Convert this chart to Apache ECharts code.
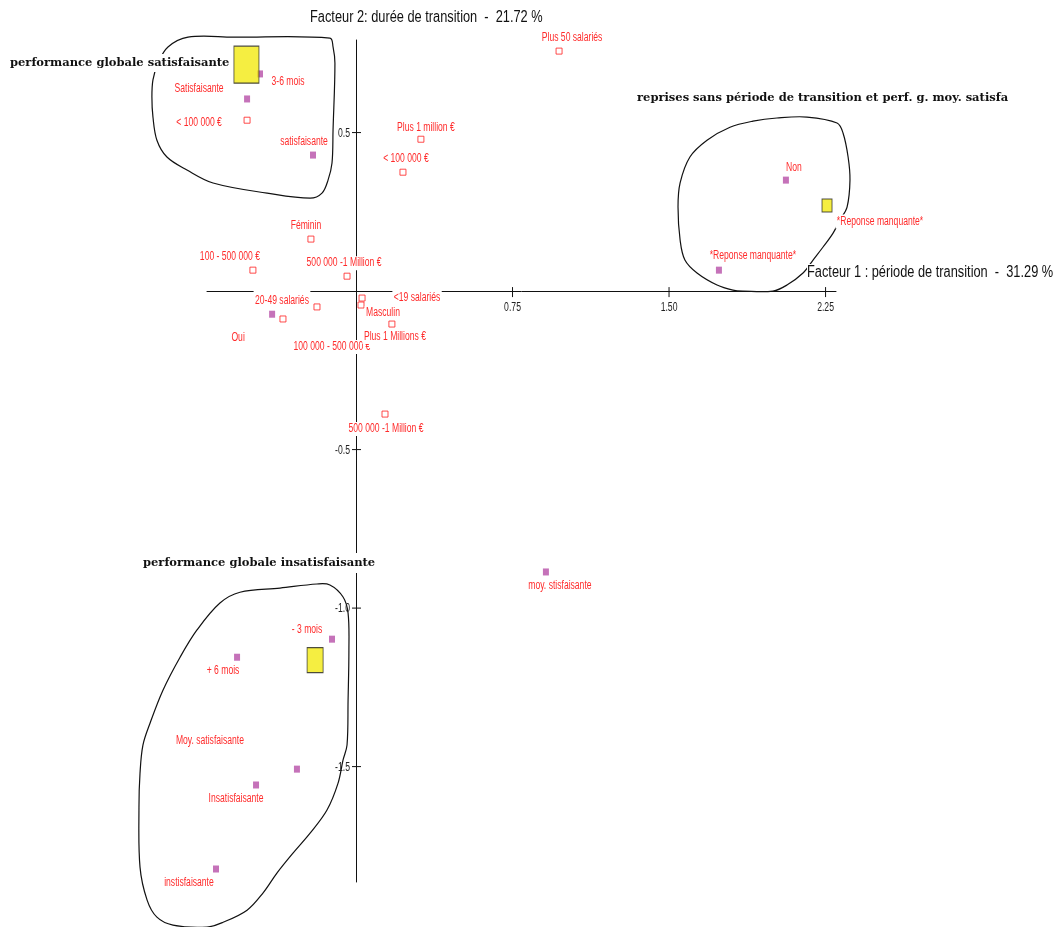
<!DOCTYPE html>
<html><head><meta charset="utf-8">
<script src="https://cdn.jsdelivr.net/npm/echarts@6/dist/echarts.min.js"></script>
<style>html,body{margin:0;padding:0;background:#fff}#c{width:1058px;height:927px}</style>
</head><body><div id="c"></div>
<script>
// ---- DATA ----
const xTicks = [0.75, 1.5, 2.25];
const yTicks = [0.5, -0.5, -1.0, -1.5];

// active categories (filled purple squares)
const activeNames = ['3-6 mois','Satisfaisante','satisfaisante','Non','*Reponse manquante*','moy. stisfaisante','- 3 mois','+ 6 mois','Moy. satisfaisante','Insatisfaisante','instisfaisante','Oui'];
const activeX = [-0.460,-0.522,-0.206,2.060,1.739,0.910,-0.115,-0.570,-0.283,-0.479,-0.671,-0.402];
const activeY = [0.685,0.606,0.429,0.350,0.066,-0.886,-1.098,-1.155,-1.508,-1.558,-1.823,-0.073];

// supplementary categories (hollow red squares)
const suppNames = ['Plus 50 salariés','Plus 1 million €','< 100 000 €','< 100 000 €','Féminin','100 - 500 000 €','500 000 -1 Million €','20-49 salariés','100 000 - 500 000 €','<19 salariés','Masculin','Plus 1 Millions €','500 000 -1 Million €'];
const suppX = [0.973,0.311,0.225,-0.522,-0.216,-0.494,-0.043,-0.187,-0.350,0.029,0.024,0.172,0.139];
const suppY = [0.757,0.479,0.375,0.539,0.164,0.066,0.047,-0.050,-0.088,-0.022,-0.044,-0.104,-0.388];

// class centres (yellow rectangles)
const centerNames = ['classe 1','classe 2','classe 3'];
const centerLabels = ['', '', '*Reponse manquante*'];
const centerX = [-0.525,-0.196,2.257];
const centerY = [0.714,-1.164,0.270];

// class outlines (in factor units)
const blobSatisf = [[-0.901,0.770],[-0.805,0.801],[-0.589,0.801],[-0.125,0.798],[-0.110,0.770],[-0.101,0.719],[-0.110,0.508],[-0.115,0.404],[-0.134,0.350],[-0.163,0.309],[-0.220,0.293],[-0.426,0.309],[-0.685,0.341],[-0.810,0.382],[-0.906,0.423],[-0.954,0.476],[-0.973,0.549],[-0.978,0.612],[-0.973,0.666],[-0.949,0.719]];
const blobReprises = [[2.017,0.546],[2.161,0.549],[2.305,0.530],[2.334,0.498],[2.358,0.423],[2.367,0.350],[2.353,0.265],[2.319,0.224],[2.286,0.183],[2.238,0.139],[2.190,0.098],[2.142,0.057],[2.065,0.019],[1.998,0.0],[1.854,0.0],[1.806,0.003],[1.730,0.019],[1.634,0.057],[1.576,0.098],[1.553,0.161],[1.543,0.265],[1.553,0.341],[1.600,0.423],[1.682,0.476],[1.792,0.517],[1.902,0.536]];
const blobInsatisf = [[-0.652,-0.984],[-0.556,-0.950],[-0.364,-0.937],[-0.187,-0.924],[-0.125,-0.927],[-0.062,-0.965],[-0.038,-1.016],[-0.034,-1.133],[-0.038,-1.290],[-0.043,-1.432],[-0.062,-1.479],[-0.086,-1.552],[-0.139,-1.637],[-0.220,-1.710],[-0.302,-1.773],[-0.379,-1.836],[-0.446,-1.899],[-0.522,-1.953],[-0.637,-1.991],[-0.714,-2.006],[-0.877,-2.000],[-0.954,-1.975],[-1.001,-1.921],[-1.035,-1.817],[-1.040,-1.628],[-1.035,-1.521],[-1.021,-1.432],[-0.987,-1.363],[-0.925,-1.259],[-0.843,-1.155],[-0.762,-1.069]];

// ---- LAYOUT / STYLE ----
const activeLabelOffset = [[28,8],[-48,-10],[-9,-13],[8,-12],[34,-14],[14,14],[-25,-9],[-14,13],[-87,-28],[-20,14],[-27,14],[-34,23]];
const suppLabelOffset = [[13,-13],[5,-12],[3,-14],[-48,2],[-5,-13],[-23,-13],[-3,-13],[-35,-6],[49,28],[55,0],[22,8],[3,13],[1,15]];
const suppLabelPad = {7:[7,2,1,2], 9:[3,2,1,2]};
const centerLabelOffset = [[0,0],[0,0],[53,16]];
const centerSizes = [[25,37],[16,25],[10,13]];

const SANS = "'Liberation Sans', Arial, sans-serif";
const SERIF = "'DejaVu Serif',serif";
const NARROW_SCALE = 0.715;
const RED = '#ff2b2b';
const PURPLE = '#b64fa8';

const blobs = [blobSatisf, blobReprises, blobInsatisf];

const labelItems = [].concat(
  activeNames.map((n, i) => ({value: [activeX[i], activeY[i]], t: n, o: activeLabelOffset[i], p: null})),
  suppNames.map((n, i) => ({value: [suppX[i], suppY[i]], t: n, o: suppLabelOffset[i], p: suppLabelPad[i] || null})),
  centerLabels.map((n, i) => ({value: [centerX[i], centerY[i]], t: n, o: centerLabelOffset[i], p: null})).filter(d => d.t !== '')
);

const tickItems = [].concat(
  xTicks.map(v => ({value: [v, 0], dir: 'x', t: v.toFixed(2)})),
  yTicks.map(v => ({value: [0, v], dir: 'y', t: v.toFixed(1)}))
);

const chart = echarts.init(document.getElementById('c'), null, {renderer:'canvas'});
chart.setOption({
  animation: false,
  backgroundColor: '#fff',
  grid: {left: 207, right: 222, top: 40, bottom: 45, containLabel: false},
  xAxis: {
    type: 'value', min: -0.714, max: 2.30,
    splitLine: {show: false},
    axisLine: {onZero: true, lineStyle: {color: '#111', width: 1}},
    axisTick: {show: false}, axisLabel: {show: false}
  },
  yAxis: {
    type: 'value', min: -1.864, max: 0.792,
    splitLine: {show: false},
    axisLine: {onZero: true, lineStyle: {color: '#111', width: 1}},
    axisTick: {show: false}, axisLabel: {show: false}
  },
  series: [
    {
      type: 'custom', name: 'classes', clip: false, silent: true, z: 1,
      data: blobs.map(b => [b[0][0], b[0][1]]),
      renderItem: function (params, api) {
        const pts = blobs[params.dataIndex].map(p => api.coord(p));
        return {type: 'polygon', shape: {points: pts, smooth: 0.35}, style: {fill: 'none', stroke: '#111', lineWidth: 1.2}};
      }
    },
    {
      type: 'custom', name: 'graduations', clip: false, silent: true, z: 2,
      data: tickItems.map(d => d.value),
      renderItem: function (params, api) {
        const d = tickItems[params.dataIndex];
        const p = api.coord(d.value);
        if (d.dir === 'x') {
          return {type: 'group', children: [
            {type: 'line', shape: {x1: p[0], y1: p[1] - 4, x2: p[0], y2: p[1] + 6}, style: {stroke: '#111', lineWidth: 1}},
            {type: 'text', x: p[0], y: p[1] + 17, scaleX: 0.72, style: {text: d.t, x: 0, y: 0, align: 'center', verticalAlign: 'middle', fill: '#222', fontFamily: SANS, fontSize: 12}}
          ]};
        }
        return {type: 'group', children: [
          {type: 'line', shape: {x1: p[0] - 4, y1: p[1], x2: p[0] + 5, y2: p[1]}, style: {stroke: '#111', lineWidth: 1}},
          {type: 'text', x: p[0] - 6, y: p[1] + 1, scaleX: 0.72, style: {text: d.t, x: 0, y: 0, align: 'right', verticalAlign: 'middle', fill: '#222', fontFamily: SANS, fontSize: 12}}
        ]};
      }
    },
    {
      type: 'scatter', name: 'supplémentaires', z: 3,
      symbol: 'rect', symbolSize: [6, 6],
      itemStyle: {color: '#fff', borderColor: '#ff1f1f', borderWidth: 1},
      data: suppNames.map((n, i) => ({name: n, value: [suppX[i], suppY[i]]}))
    },
    {
      type: 'custom', name: 'étiquettes', clip: false, silent: true, z: 4,
      data: labelItems.map(d => d.value),
      renderItem: function (params, api) {
        const d = labelItems[params.dataIndex];
        const p = api.coord(d.value);
        return {type: 'text', x: p[0] + d.o[0], y: p[1] + d.o[1], scaleX: NARROW_SCALE,
          style: {text: d.t, x: 0, y: 0, align: 'center', verticalAlign: 'middle', fill: RED,
            fontFamily: SANS, fontSize: 12, backgroundColor: '#fff', padding: d.p || [1, 2, 1, 2]}};
      }
    },
    {
      type: 'scatter', name: 'actives', z: 5,
      symbol: 'rect', symbolSize: [6, 7],
      itemStyle: {color: PURPLE},
      data: activeNames.map((n, i) => ({name: n, value: [activeX[i], activeY[i]]}))
    },
    {
      type: 'scatter', name: 'centres', z: 6,
      symbol: 'rect',
      itemStyle: {color: '#f3ea12', borderColor: '#222', borderWidth: 1},
      data: centerNames.map((n, i) => ({name: n, value: [centerX[i], centerY[i]], symbolSize: centerSizes[i]}))
    }
  ],
  graphic: [
    {type: 'text', z: 100, x: 310, y: 18, scaleX: 0.8, style: {text: 'Facteur 2: durée de transition  -  21.72 %', x: 0, y: 0, verticalAlign: 'middle', fill: '#111', fontFamily: SANS, fontSize: 16}},
    {type: 'text', z: 100, x: 807, y: 273, scaleX: 0.8, style: {text: 'Facteur 1 : période de transition  -  31.29 %', x: 0, y: 0, verticalAlign: 'middle', fill: '#111', fontFamily: SANS, fontSize: 16, backgroundColor: '#fff', padding: [1, 0, 1, 0]}},
    {type: 'text', z: 100, style: {text: 'performance globale satisfaisante', x: 10, y: 63, verticalAlign: 'middle', fill: '#111', fontFamily: SERIF, fontWeight: 'bold', fontSize: 11.5, backgroundColor: '#fff', padding: [3, 2, 3, 0]}},
    {type: 'text', z: 100, style: {text: 'reprises sans période de transition et perf. g. moy. satisfa', x: 637, y: 98, verticalAlign: 'middle', fill: '#111', fontFamily: SERIF, fontWeight: 'bold', fontSize: 11.5}},
    {type: 'text', z: 100, style: {text: 'performance globale insatisfaisante', x: 143, y: 563, verticalAlign: 'middle', fill: '#111', fontFamily: SERIF, fontWeight: 'bold', fontSize: 11.5, backgroundColor: '#fff', padding: [4, 2, 4, 0]}}
  ]
});
</script>
</body></html>
